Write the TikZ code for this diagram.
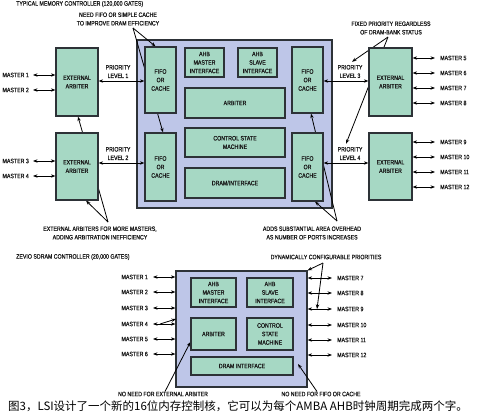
\documentclass[tikz,border=0pt]{standalone}
\usepackage{fontspec}
\newfontfamily\lblfont[FakeStretch=0.82, FakeBold=0.6]{Liberation Sans}
\newfontfamily\cjkfont{Noto Sans CJK SC}
\usetikzlibrary{arrows.meta}
\pgfdeclarelayer{back}
\pgfsetlayers{back,main}

\definecolor{blockblue}{RGB}{190,198,232}
\definecolor{unitgreen}{RGB}{166,216,196}
\definecolor{edgegray}{RGB}{45,50,55}

\tikzset{
  lbl/.style={font={\lblfont\fontsize{6.4}{8.5}\selectfont}, align=center, inner sep=0pt, text=black!90},
  ctlbox/.style={draw=edgegray, fill=blockblue, line width=1.2pt, inner sep=0pt},
  unit/.style={lbl, draw=edgegray, fill=unitgreen, line width=1.2pt},
  port/.style={<->, line width=0.8pt},
  note/.style={->, line width=0.8pt},
}

\begin{document}
\begin{tikzpicture}[x=1pt, y=-1pt, >={Stealth[length=4.5pt,width=3.4pt]}]
    \useasboundingbox (0,0) rectangle (482,418);

    % typical controller
    \begin{scope}
        \node[lbl, anchor=west] (title1) at (16,4) {TYPICAL MEMORY CONTROLLER (120,000 GATES)};

        \node[unit, minimum width=31, minimum height=66] (fifoA) at (160.5,80) {FIFO\\OR\\CACHE};
        \node[unit, minimum width=31, minimum height=68] (fifoB) at (160.5,167) {FIFO\\OR\\CACHE};
        \node[unit, minimum width=31, minimum height=66] (fifoC) at (307.5,80) {FIFO\\OR\\CACHE};
        \node[unit, minimum width=31, minimum height=68] (fifoD) at (307.5,167) {FIFO\\OR\\CACHE};

        \node[unit, minimum width=39, minimum height=29] (ahbm) at (204.5,62.5) {AHB\\MASTER\\INTERFACE};
        \node[unit, minimum width=39, minimum height=29] (ahbs) at (257.5,62.5) {AHB\\SLAVE\\INTERFACE};
        \node[unit, minimum width=100, minimum height=30] (arb) at (235,103) {ARBITER};
        \node[unit, minimum width=100, minimum height=29] (csm) at (235,142.5) {CONTROL STATE\\MACHINE};
        \node[unit, minimum width=100, minimum height=30] (dram) at (235,183) {DRAM/INTERFACE};

        \node[unit, minimum width=42, minimum height=68] (extA) at (77,82) {EXTERNAL\\ARBITER};
        \node[unit, minimum width=42, minimum height=67] (extB) at (77,166.5) {EXTERNAL\\ARBITER};
        \node[unit, minimum width=43, minimum height=68] (extC) at (390.5,82) {EXTERNAL\\ARBITER};
        \node[unit, minimum width=43, minimum height=67] (extD) at (390.5,166.5) {EXTERNAL\\ARBITER};

        % masters
        \foreach \i/\y in {1/75, 2/90} {
            \node[lbl, anchor=east] (m\i) at (29,\y) {MASTER \i};
            \draw[port] ([xshift=4pt]m\i.east) -- (m\i -| extA.west);
        }
        \foreach \i/\y in {3/161, 4/176} {
            \node[lbl, anchor=east] (m\i) at (29,\y) {MASTER \i};
            \draw[port] ([xshift=4pt]m\i.east) -- (m\i -| extB.west);
        }
        \foreach \i/\y in {5/58, 6/73, 7/88, 8/103} {
            \node[lbl, anchor=west] (m\i) at (440,\y) {MASTER \i};
            \draw[port] (m\i -| extC.east) -- ([xshift=-5pt]m\i.west);
        }
        \foreach \i/\y in {9/142, 10/157, 11/172, 12/187} {
            \node[lbl, anchor=west] (m\i) at (440,\y) {MASTER \i};
            \draw[port] (m\i -| extD.east) -- ([xshift=-5pt]m\i.west);
        }

        % priority levels
        \node[lbl] (pri1) at (118,71.5) {PRIORITY\\LEVEL 1};
        \node[lbl] (pri2) at (118,153.5) {PRIORITY\\LEVEL 2};
        \node[lbl] (pri3) at (350,71.5) {PRIORITY\\LEVEL 3};
        \node[lbl] (pri4) at (350,153.5) {PRIORITY\\LEVEL 4};
        \draw[port] (extA.east |- 0,81) -- (fifoA.west |- 0,81);
        \draw[port] (extB.east |- 0,163) -- (fifoB.west |- 0,163);
        \draw[port] (fifoC.east |- 0,81) -- (extC.west |- 0,81);
        \draw[port] (fifoD.east |- 0,163) -- (extD.west |- 0,163);

        % notes
        \node[lbl] (noteA) at (118,19) {NEED FIFO OR SIMPLE CACHE\\TO IMPROVE DRAM EFFICIENCY};
        \node[lbl] (noteB) at (391,28) {FIXED PRIORITY REGARDLESS\\OF DRAM-BANK STATUS};
        \node[lbl] (noteC) at (100,233) {EXTERNAL ARBITERS FOR MORE MASTERS,\\ADDING ARBITRATION INEFFICIENCY};
        \node[lbl] (noteD) at (312,233) {ADDS SUBSTANTIAL AREA OVERHEAD\\AS NUMBER OF PORTS INCREASES};
        \coordinate (nA) at (133,28);
        \coordinate (nB) at (388,37);
        \coordinate (nC) at (108,222);
        \coordinate (nD) at (337,221);
    \end{scope}

    % zevio controller
    \begin{scope}
        \node[lbl, anchor=west] (title2) at (16,257) {ZEVIO SDRAM CONTROLLER (20,000 GATES)};

        \node[unit, minimum width=45, minimum height=29] (zahbm) at (213.5,292.5) {AHB\\MASTER\\INTERFACE};
        \node[unit, minimum width=46, minimum height=29] (zahbs) at (270,292.5) {AHB\\SLAVE\\INTERFACE};
        \node[unit, minimum width=45, minimum height=32] (zarb) at (213.5,334) {ARBITER};
        \node[unit, minimum width=46, minimum height=32] (zcsm) at (270,334) {CONTROL\\STATE\\MACHINE};
        \node[unit, minimum width=102, minimum height=18] (zdram) at (242,366) {DRAM INTERFACE};

        \node[lbl] (noteE) at (326,257) {DYNAMICALLY CONFIGURABLE PRIORITIES};
        \node[lbl] (noteF) at (163,394) {NO NEED FOR EXTERNAL ARBITER};
        \node[lbl] (noteG) at (321,394) {NO NEED FOR FIFO OR CACHE};
        \coordinate (nE) at (323,263);
        \coordinate (pr9) at (317,309);
        \coordinate (m4tip) at (176,319);
        \coordinate (dramtip) at (298,364);
    \end{scope}

    \node[font={\cjkfont\fontsize{11.5}{12}\selectfont}, inner sep=0pt] (caption) at (238,406)
        {图3，LSI设计了一个新的16位内存控制核，它可以为每个AMBA AHB时钟周期完成两个字。};

    \begin{pgfonlayer}{back}
        \node[ctlbox, minimum width=195, minimum height=168] (ctl) at (234.5,124) {};
        \node[ctlbox, minimum width=131, minimum height=116] (zev) at (241.5,329) {};

        \draw[note] (nA) -- ([xshift=-5pt]fifoA.north);
        \draw[note] (nA) -- ([xshift=2.5pt]fifoB.north);
        \draw[note] (nB) -- ([xshift=2pt,yshift=3pt]pri3.north);
        \draw[note] (nB) -- ([xshift=-4pt,yshift=3pt]pri4.north);
        \draw[note] (nC) -- ([xshift=9pt]extB.south);
        \draw[note] (nC) -- ([xshift=1pt]extA.south);
        \draw[note] (nD) -- ([xshift=7.5pt]fifoD.south);
        \draw[note] (nD) -- ([xshift=3.5pt]fifoC.south);

        \draw[note] (nE) -- (zev.north east);
        \draw[note] (nE) -- (pr9);
        \draw[note] ([xshift=2pt]noteF.north) -- ([yshift=-8pt]zarb.west);
        \draw[note] ([xshift=-4pt]noteG.north) -- (dramtip);
    \end{pgfonlayer}

    \foreach \i/\y in {1/277, 2/292, 3/308, 4/324, 5/339, 6/354} {
        \node[lbl, anchor=east] (zm\i) at (148,\y) {MASTER \i};
        \draw[port] ([xshift=5pt]zm\i.east) -- (zm\i -| zev.west);
    }
    \foreach \i/\y in {7/278, 8/293, 9/309, 10/325, 11/340, 12/355} {
        \node[lbl, anchor=west] (zm\i) at (337,\y) {MASTER \i};
        \draw[port] (zm\i -| zev.east) -- ([xshift=-5pt]zm\i.west);
    }
    \draw[note] ([xshift=12pt]zm4.east) -- (m4tip);
\end{tikzpicture}
\end{document}
